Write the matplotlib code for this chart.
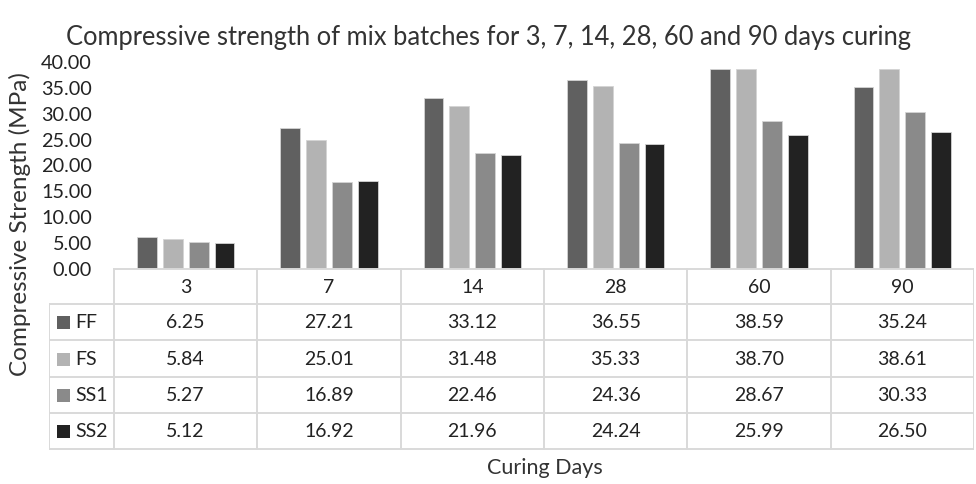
import numpy as np
import matplotlib
matplotlib.use("Agg")
import matplotlib.pyplot as plt
from matplotlib.patches import Rectangle

plt.rcParams["font.family"] = ["Lato", "DejaVu Sans"]

days = ["3", "7", "14", "28", "60", "90"]
series = ["FF", "FS", "SS1", "SS2"]
ff = [6.25, 27.21, 33.12, 36.55, 38.59, 35.24]
fs = [5.84, 25.01, 31.48, 35.33, 38.70, 38.61]
ss1 = [5.27, 16.89, 22.46, 24.36, 28.67, 30.33]
ss2 = [5.12, 16.92, 21.96, 24.24, 25.99, 26.50]
values = [ff, fs, ss1, ss2]
colors = ["#606060", "#b3b3b3", "#8a8a8a", "#222222"]
yticks = np.arange(0, 45, 5)

W, H = 976, 484
fig = plt.figure(figsize=(W / 100, H / 100), dpi=100)


def fy(py):
    return 1 - py / H


# bar area
ax = fig.add_axes([114 / W, fy(269), (974 - 114) / W, (269 - 62) / H])
x = np.arange(len(days)) + 0.5
step, bw = 0.1806, 0.139
for k, (vals, c) in enumerate(zip(values, colors)):
    ax.bar(x + (k - 1.5) * step, vals, width=bw, color=c,
           edgecolor="#d4d4d4", linewidth=0.6)
ax.set_xlim(0, len(days))
ax.set_ylim(0, 40)
ax.set_yticks(yticks)
ax.set_yticklabels([f"{v:.2f}" for v in yticks], fontsize=14.3, color="#222222")
ax.tick_params(axis="y", length=0, pad=16)
ax.set_xticks([])
for s in ax.spines.values():
    s.set_visible(False)

# data table
tab = fig.add_axes([49 / W, fy(450), (974 - 49) / W, (450 - 268) / H])
tab.axis("off")
left = -(114 - 49) / ((974 - 114) / len(days))
tab.set_xlim(left, len(days))
tab.set_ylim(450, 268)
rows = [269, 303.5, 340, 376.5, 412.5, 448.5]
lc, lw = "#d9d9d9", 1.4
ncol = len(days)
# horizontal lines
tab.plot([0, ncol], [rows[0], rows[0]], color=lc, lw=lw)
for r in rows[1:]:
    tab.plot([left, ncol], [r, r], color=lc, lw=lw)
# vertical lines
for c in range(ncol + 1):
    tab.plot([c, c], [rows[0], rows[-1]], color=lc, lw=lw)
tab.plot([left, left], [rows[1], rows[-1]], color=lc, lw=lw)

for j, d in enumerate(days):
    tab.text(j + 0.5, (rows[0] + rows[1]) / 2 + 1, d, ha="center", va="center",
             fontsize=14, color="#222222")
px = (ncol - left) / (974 - 49)
for i, (name, vals, c) in enumerate(zip(series, values, colors)):
    yc = (rows[i + 1] + rows[i + 2]) / 2 + 1
    tab.add_patch(Rectangle((left + 8 * px, yc - 6.3), 12.7 * px, 12.7,
                            facecolor=c, edgecolor="none"))
    tab.text(left + 26 * px, yc, name, ha="left", va="center",
             fontsize=14, color="#222222")
    for j, v in enumerate(vals):
        tab.text(j + 0.5, yc, f"{v:.2f}", ha="center", va="center",
                 fontsize=14, color="#222222")

fig.text(488 / W, fy(37), "Compressive strength of mix batches for 3, 7, 14, 28, 60 and 90 days curing",
         ha="center", va="center", fontsize=18.4, color="#333333")
fig.text(20 / W, fy(224), "Compressive Strength (MPa)", rotation=90,
         ha="center", va="center", fontsize=17.5, color="#333333")
fig.text(545 / W, fy(468), "Curing Days", ha="center", va="center",
         fontsize=15.5, color="#333333")

fig.savefig("out.png", dpi=100)
